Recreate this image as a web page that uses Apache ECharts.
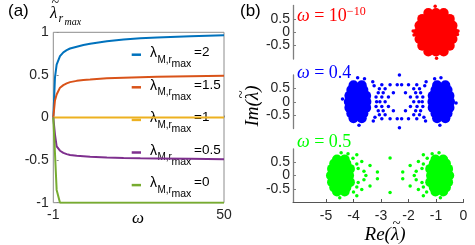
<!DOCTYPE html>
<html><head><meta charset="utf-8">
<script src="https://cdn.jsdelivr.net/npm/echarts@6/dist/echarts.min.js"></script>
<style>html,body{margin:0;padding:0;background:#fff}#c{width:475px;height:245px}</style>
</head><body><div id="c"></div>
<script>
// ---------- panel (a) data ----------
const omega   = [-1, -0.5, 0, 1, 2, 3, 4, 6, 8, 10, 15, 20, 25, 30, 40, 50];
const lamM2   = [0, 0.47, 0.62, 0.72, 0.765, 0.79, 0.81, 0.83, 0.85, 0.865, 0.895, 0.915, 0.93, 0.94, 0.955, 0.965];
const lamM15  = [0, 0.20, 0.27, 0.35, 0.38, 0.40, 0.415, 0.43, 0.44, 0.445, 0.46, 0.468, 0.473, 0.478, 0.485, 0.49];
const lamM1   = [0, 0, 0, 0, 0, 0, 0, 0, 0, 0, 0, 0, 0, 0, 0, 0];
const lamM05  = [0, -0.2, -0.34, -0.39, -0.415, -0.43, -0.44, -0.45, -0.455, -0.46, -0.47, -0.475, -0.478, -0.48, -0.485, -0.49];
const lamM0   = [0, -0.42, -0.85, -1, -1, -1, -1, -1, -1, -1, -1, -1, -1, -1, -1, -1];
const seriesNames = ['2', '1.5', '1', '0.5', '0'];
const aXTicks = [-1, 50];

// ---------- panel (b) data (eigenvalues, [Re, Im]) ----------
const bXTicks = [-5, -4, -3, -2, -1, 0];
const bYTickLabels = ['-0.5', '0', '0.5'];
// omega = 1e-10
const redCore = [
  [-1.64,0],[-1.42,0],[-1.2,0],[-1,0],[-0.8,0],[-0.58,0],[-0.36,0],
  [-1.6,0.25],[-1.36,0.25],[-1.12,0.25],[-0.88,0.25],[-0.64,0.25],[-0.4,0.25],
  [-1.6,-0.25],[-1.36,-0.25],[-1.12,-0.25],[-0.88,-0.25],[-0.64,-0.25],[-0.4,-0.25],
  [-1.5,0.5],[-1.25,0.5],[-1,0.5],[-0.75,0.5],[-0.5,0.5],
  [-1.5,-0.5],[-1.25,-0.5],[-1,-0.5],[-0.75,-0.5],[-0.5,-0.5],
  [-1.28,0.72],[-1,0.72],[-0.72,0.72],
  [-1.28,-0.72],[-1,-0.72],[-0.72,-0.72]
];
const redSparse = [[-1.03,0.97],[-0.98,-0.97],[-1.83,0.05],[-1.8,-0.1],[-0.2,0.05],[-0.22,-0.08]];
// omega = 0.4
const blueCore = [
  [-4.17,0],[-3.95,0],[-3.75,0],[-3.53,0],
  [-4.15,0.22],[-3.93,0.22],[-3.72,0.22],[-3.54,0.22],
  [-4.15,-0.22],[-3.93,-0.22],[-3.72,-0.22],[-3.54,-0.22],
  [-4.08,0.44],[-3.86,0.44],[-3.64,0.44],
  [-4.08,-0.44],[-3.86,-0.44],[-3.64,-0.44],
  [-4.0,0.62],[-3.7,0.62],[-4.0,-0.62],[-3.7,-0.62],
  [-0.49,0],[-0.71,0],[-0.91,0],[-1.13,0],
  [-0.51,0.22],[-0.73,0.22],[-0.94,0.22],[-1.12,0.22],
  [-0.51,-0.22],[-0.73,-0.22],[-0.94,-0.22],[-1.12,-0.22],
  [-0.58,0.44],[-0.8,0.44],[-1.02,0.44],
  [-0.58,-0.44],[-0.8,-0.44],[-1.02,-0.44],
  [-0.66,0.62],[-0.96,0.62],[-0.66,-0.62],[-0.96,-0.62]
];
const blueSparse = [
  [-2.33,1.0],[-2.33,-0.97],
  [-2.97,0.64],[-2.67,0.64],[-2.41,0.64],[-2.25,0.64],[-2.0,0.64],[-1.7,0.64],
  [-2.97,-0.64],[-2.67,-0.64],[-2.41,-0.64],[-2.25,-0.64],[-2.0,-0.64],[-1.7,-0.64],
  [-3.06,0.49],[-2.85,0.49],[-1.81,0.49],[-1.6,0.49],
  [-3.06,-0.49],[-2.85,-0.49],[-1.81,-0.49],[-1.6,-0.49],
  [-3.1,0.34],[-2.92,0.34],[-2.55,0.34],[-2.11,0.34],[-1.74,0.34],[-1.56,0.34],
  [-3.1,-0.34],[-2.92,-0.34],[-2.55,-0.34],[-2.11,-0.34],[-1.74,-0.34],[-1.56,-0.34],
  [-3.18,0.18],[-2.97,0.18],[-2.73,0.18],[-1.93,0.18],[-1.69,0.18],[-1.48,0.18],
  [-3.18,-0.18],[-2.97,-0.18],[-2.73,-0.18],[-1.93,-0.18],[-1.69,-0.18],[-1.48,-0.18],
  [-3.16,0],[-3.04,0],[-2.85,0],[-1.81,0],[-1.62,0],[-1.5,0],
  [-3.3,0.75],[-3.25,0.6],[-3.28,-0.72],[-3.22,-0.58],
  [-1.36,0.75],[-1.41,0.6],[-1.38,-0.72],[-1.44,-0.58],
  [-3.85,0.9],[-3.6,0.86],[-3.8,-0.88],[-0.82,0.9],[-1.05,0.86],[-0.86,-0.88],
  [-4.4,0.1],[-0.27,-0.05]
];
// omega = 0.5
const greenCore = [
  [-4.82,0],[-4.6,0],[-4.38,0],[-4.16,0],
  [-4.78,0.25],[-4.56,0.25],[-4.34,0.25],[-4.13,0.25],
  [-4.78,-0.25],[-4.56,-0.25],[-4.34,-0.25],[-4.13,-0.25],
  [-4.7,0.45],[-4.48,0.45],[-4.26,0.45],
  [-4.7,-0.45],[-4.48,-0.45],[-4.26,-0.45],
  [-4.6,0.6],[-4.32,0.6],[-4.6,-0.6],[-4.32,-0.6],
  [-0.52,0],[-0.74,0],[-0.96,0],[-1.18,0],
  [-0.56,0.25],[-0.78,0.25],[-1.0,0.25],[-1.21,0.25],
  [-0.56,-0.25],[-0.78,-0.25],[-1.0,-0.25],[-1.21,-0.25],
  [-0.64,0.45],[-0.86,0.45],[-1.08,0.45],
  [-0.64,-0.45],[-0.86,-0.45],[-1.08,-0.45],
  [-0.74,0.6],[-1.02,0.6],[-0.74,-0.6],[-1.02,-0.6]
];
const greenSparse = [
  [-3.88,0.78],[-3.7,0.53],[-3.4,0.38],[-3.13,0.13],[-3.13,-0.12],[-3.4,-0.4],[-3.7,-0.53],[-3.88,-0.76],
  [-2.67,0.66],[-2.67,-0.64],
  [-3.83,0.26],[-3.62,0.16],[-3.55,0],[-3.62,-0.16],[-3.83,-0.26],[-3.88,0.43],[-3.88,-0.43],
  [-1.46,0.78],[-1.64,0.53],[-1.94,0.38],[-2.21,0.13],[-2.21,-0.12],[-1.94,-0.4],[-1.64,-0.53],[-1.46,-0.76],
  [-1.51,0.26],[-1.72,0.16],[-1.79,0],[-1.72,-0.16],[-1.51,-0.26],[-1.46,0.43],[-1.46,-0.43],
  [-4.45,0.86],[-4.2,0.82],[-4.5,-0.84],[-0.89,0.86],[-1.14,0.82],[-0.84,-0.84],
  [-4.02,0.65],[-4.0,-0.62],[-1.32,0.65],[-1.34,-0.62]
];

const lineColors = ['#0072BD', '#D95319', '#EDB120', '#7E2F8E', '#77AC30'];
const lineValues = [lamM2, lamM15, lamM1, lamM05, lamM0];

const chart = echarts.init(document.getElementById('c'), null, {renderer: 'canvas'});
const tickFont = {fontFamily: 'Liberation Sans', fontSize: 14, color: '#262626'};
const serif = '"Liberation Serif"';
const sans = '"Liberation Sans"';
const mctx = document.createElement('canvas').getContext('2d');
function tw(str, font) { mctx.font = font; return mctx.measureText(str).width; }
function txt(text, x, y, font, fill, align) {
  return {type: 'text', x: x, y: y, silent: true,
    style: {text: text, font: font, fill: fill || '#000', align: align || 'left', verticalAlign: 'middle'}};
}

function bYAxis(gi) {
  return {
    gridIndex: gi, type: 'value', min: -1, max: 1, interval: 0.5,
    axisLine: {show: true, onZero: false, lineStyle: {color: '#7f7f7f', width: 1.3}},
    axisTick: {show: true, inside: true, length: 3, lineStyle: {color: '#7f7f7f'}},
    axisLabel: Object.assign({margin: 3, showMinLabel: false, showMaxLabel: false,
      formatter: v => (bYTickLabels.indexOf(String(v)) >= 0 ? String(v) : '')}, tickFont),
    splitLine: {show: false}
  };
}
function bXAxis(gi, visible) {
  return {
    gridIndex: gi, type: 'value', min: -6.2, max: 0, show: visible,
    axisLine: {show: true, onZero: false, lineStyle: {color: '#555', width: 1}},
    axisTick: {show: true, inside: true, length: 3, customValues: bXTicks, lineStyle: {color: '#555'}},
    axisLabel: Object.assign({customValues: bXTicks, margin: 7}, tickFont),
    splitLine: {show: false}
  };
}

const series = [];
lineValues.forEach((vals, k) => {
  series.push({
    name: seriesNames[k], type: 'line', xAxisIndex: 0, yAxisIndex: 0,
    data: omega.map((w, i) => [w, vals[i]]),
    showSymbol: false, symbol: 'none',
    lineStyle: {color: lineColors[k], width: 2},
    itemStyle: {color: lineColors[k]}
  });
});
function scat(data, gi, color, size) {
  return {type: 'scatter', xAxisIndex: gi, yAxisIndex: gi, data: data,
    symbol: 'circle', symbolSize: size, itemStyle: {color: color, opacity: 1}, silent: true};
}
series.push(scat(redCore, 1, '#ff0000', 10));
series.push(scat(redSparse, 1, '#ff0000', 3.5));
series.push(scat(blueCore, 2, '#0000ff', 10));
series.push(scat(blueSparse, 2, '#0000ff', 3.5));
series.push(scat(greenCore, 3, '#00ff00', 10));
series.push(scat(greenSparse, 3, '#00ff00', 3.5));

function wLabel(x, y, color, value, sup) {
  const rich = {
    w: {font: 'italic 18px ' + serif, fill: color, lineHeight: 18, padding: [3, 0, 0, 0], verticalAlign: 'top'},
    t: {font: '18px ' + serif, fill: color, lineHeight: 18, padding: [3, 0, 0, 0], verticalAlign: 'top'},
    s: {font: '12px ' + serif, fill: color, lineHeight: 12, padding: [1, 0, 0, 0], verticalAlign: 'top'}
  };
  let text = '{w|ω}{t| = ' + value + '}';
  if (sup) text += '{s|' + sup + '}';
  return {type: 'text', x: x, y: y, style: {text: text, rich: rich, align: 'left', verticalAlign: 'top'}};
}

// axis label "Xx(λ̃)" built as a group: text + tilde above λ
function tildeLabel(prefix, cx, cy, rot) {
  const font = 'italic 19px ' + serif;
  const full = prefix + '(λ)';
  const W = tw(full, font);
  const x0 = -W / 2;
  const lamC = x0 + tw(prefix + '(', font) + tw('λ', font) / 2 + 1.5;
  return {
    type: 'group', x: cx, y: cy, rotation: rot,
    children: [
      txt(full, x0, 0, font),
      txt('~', lamC, -11, '15px ' + serif, '#000', 'center')
    ]
  };
}

// legend of panel (a), drawn as graphic items
const legendItems = [];
seriesNames.forEach((nm, i) => {
  const c = 54.7 + 32.6 * i;
  legendItems.push({type: 'line', silent: true, shape: {x1: 131.7, y1: c, x2: 141, y2: c},
    style: {stroke: lineColors[i], lineWidth: 2.5}});
  legendItems.push(txt('λ', 150, c - 1.5, '14px ' + sans));
  legendItems.push(txt('M,r', 157.5, c + 5.2, '10px ' + sans));
  legendItems.push(txt('max', 171.5, c + 9.5, '10.5px ' + sans));
  legendItems.push(txt('=' + nm, 194, c - 2.5, '13.5px ' + sans));
});

const titleLamFont = 'italic 17px ' + serif;
const titleLamW = tw('λ', titleLamFont);

chart.setOption({
  animation: false,
  grid: [
    {left: 53.3, top: 32.3, width: 170.7, height: 170.4, show: true, borderColor: '#8c8c8c', borderWidth: 1, backgroundColor: 'transparent'},
    {left: 293, top: 5.5, width: 170.5, height: 53.5},
    {left: 293, top: 75, width: 170.5, height: 53.5},
    {left: 293, top: 149, width: 170.5, height: 53}
  ],
  xAxis: [
    {gridIndex: 0, type: 'value', min: -1, max: 50,
     axisLine: {show: false},
     axisTick: {show: true, inside: true, length: 2, customValues: aXTicks, lineStyle: {color: '#8c8c8c'}},
     axisLabel: Object.assign({customValues: aXTicks, margin: 5}, tickFont),
     splitLine: {show: false}},
    bXAxis(1, false), bXAxis(2, false), bXAxis(3, true)
  ],
  yAxis: [
    {gridIndex: 0, type: 'value', min: -1, max: 1, interval: 0.5,
     axisLine: {show: false},
     axisTick: {show: true, inside: true, length: 2, lineStyle: {color: '#8c8c8c'}},
     axisLabel: Object.assign({margin: 4.5}, tickFont),
     splitLine: {show: false}},
    bYAxis(1), bYAxis(2), bYAxis(3)
  ],
  graphic: [
    txt('(a)', 8, 11.5, '17px ' + sans),
    txt('(b)', 240, 11.5, '17px ' + sans),
    txt('λ', 50, 14, titleLamFont),
    txt('~', 50 + titleLamW / 2 + 1.5, 3.5, '14px ' + serif, '#000', 'center'),
    txt('r', 58.5, 18.5, 'italic 12px ' + serif),
    txt('max', 64.5, 22, 'italic 10px ' + serif),
    txt('ω', 138, 219, 'italic 17px ' + serif, '#000', 'center'),
    wLabel(297, 4.5, '#ff0000', '10', '−10'),
    wLabel(297, 61, '#0000ff', '0.4'),
    wLabel(297, 130, '#00ff00', '0.5'),
    tildeLabel('Im', 253, 106, Math.PI / 2),
    tildeLabel('Re', 385, 235, 0)
  ].concat(legendItems),
  series: series
});
</script></body></html>
